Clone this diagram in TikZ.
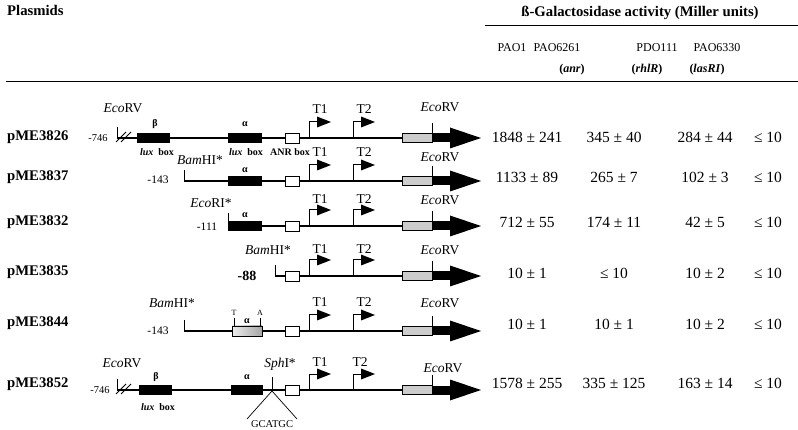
\documentclass[tikz,border=0pt]{standalone}
\usepackage{fontspec}
\setmainfont{Liberation Serif}
\begin{document}
\begin{tikzpicture}[
  x=1pt, y=-1pt,
  dna/.style={line width=1.3pt},
  tickline/.style={line width=0.9pt},
  lab/.style={inner sep=0pt, font=\fontsize{13.5}{15}\selectfont},
  num/.style={inner sep=0pt, font=\fontsize{15.5}{17}\selectfont},
  pname/.style={inner sep=0pt, anchor=west, font=\fontsize{14.7}{16}\selectfont\bfseries},
  poslab/.style={inner sep=0pt, font=\fontsize{10.5}{12}\selectfont},
  boxlab/.style={inner sep=0pt, font=\fontsize{10}{11}\selectfont\bfseries},
  greek/.style={inner sep=0pt, font=\fontsize{10}{11}\selectfont\bfseries},
  colhead/.style={inner sep=0pt, font=\fontsize{12}{13}\selectfont},
  headtxt/.style={inner sep=0pt, font=\fontsize{14.7}{16}\selectfont\bfseries},
  promoter/.pic={
    \draw[line width=1pt] (0,0) -- (0,-16) -- (9,-16);
    \fill (8,-10.5) -- (22,-16) -- (8,-21.5) -- cycle;
  },
  common/.pic={
    \draw[line width=0.9pt, fill=white] (285,-5) rectangle (299,5);
    \pic at (309,0) {promoter};
    \pic at (353,0) {promoter};
    \draw[line width=0.6pt, fill=gray!40] (402,-4.5) rectangle (432,4.5);
    \fill (431.5,-4.5) rectangle (451,4.5);
    \fill (450,-10.5) -- (481,0) -- (450,10.5) -- cycle;
    \draw[line width=0.9pt] (432,-15) -- (432,0);
  },
  slashes/.pic={
    \draw[line width=1pt] (-2,4) -- (8,-6);
    \draw[line width=1pt] (3,4) -- (13,-6);
  }
]
\useasboundingbox (0,0) rectangle (798,430);

% ---------- header ----------
\node[pname] (plas) at (7,10) {Plasmids};
\node[headtxt] (bgal) at (640,13) {ß-Galactosidase activity (Miller units)};
\draw[line width=0.9pt] (485,25) -- (798,25);
\node[colhead] (h1) at (512,48) {PAO1};
\node[colhead] (h2) at (557,48) {PAO6261};
\node[colhead] (h3) at (657,48) {PDO111};
\node[colhead] (h4) at (717,48) {PAO6330};
\node[colhead] (g2) at (572,70) {\bfseries(\textit{anr})};
\node[colhead] (g3) at (647,70) {\bfseries(\textit{rhlR})};
\node[colhead] (g4) at (707,70) {\bfseries(\textit{lasRI})};
\draw[line width=0.9pt] (6,81) -- (798,81);

% ---------- row 1: pME3826 ----------
\node[pname] (n1) at (7,137) {pME3826};
\draw[dna] (117,138) -- (402,138);
\draw[tickline] (117,127) -- (117,138);
\pic at (118,138) {slashes};
\fill (137,133) rectangle (170,143);
\fill (228,133) rectangle (262,143);
\pic at (0,138) {common};
\node[poslab] (p1) at (98,138) {-746};
\node[lab] (e1a) at (123,108) {\textit{Eco}RV};
\node[lab] (e1b) at (440,107) {\textit{Eco}RV};
\node[greek] (b1) at (155,124) {β};
\node[greek] (a1) at (245,124) {α};
\node[boxlab] (lb1) at (157,152) {\textit{lux}\enspace box};
\node[boxlab] (lb2) at (246,152) {\textit{lux}\enspace box};
\node[boxlab] (anr) at (290,152) {ANR box};
\node[lab] (t11) at (320,109) {T1};
\node[lab] (t21) at (364,109) {T2};

% ---------- row 2: pME3837 ----------
\node[pname] (n2) at (7,177) {pME3837};
\draw[dna] (184,181) -- (402,181);
\draw[tickline] (184,170) -- (184,181);
\fill (228,176) rectangle (262,186);
\pic at (0,181) {common};
\node[poslab, font=\fontsize{11.5}{13}\selectfont] (p2) at (158,180) {-143};
\node[lab] (s2) at (200,160) {\textit{Bam}HI*};
\node[greek] (a2) at (245,170) {α};
\node[lab] (t12) at (320,152) {T1};
\node[lab] (t22) at (364,152) {T2};
\node[lab] (e2) at (440,157) {\textit{Eco}RV};

% ---------- row 3: pME3832 ----------
\node[pname] (n3) at (7,222) {pME3832};
\draw[dna] (228,226) -- (402,226);
\draw[tickline] (228,213) -- (228,226);
\fill (228,221) rectangle (262,231);
\pic at (0,226) {common};
\node[poslab, font=\fontsize{11.5}{13}\selectfont] (p3) at (207,227) {-111};
\node[lab] (s3) at (211,203) {\textit{Eco}RI*};
\node[greek] (a3) at (245,215) {α};
\node[lab] (t13) at (320,199) {T1};
\node[lab] (t23) at (364,199) {T2};
\node[lab] (e3) at (440,200) {\textit{Eco}RV};

% ---------- row 4: pME3835 ----------
\node[pname] (n4) at (7,272) {pME3835};
\draw[dna] (275,276) -- (402,276);
\draw[tickline] (275,265) -- (275,276);
\pic at (0,276) {common};
\node[poslab, font=\fontsize{14}{16}\selectfont\bfseries] (p4) at (247,276) {-88};
\node[lab] (s4) at (268,250) {\textit{Bam}HI*};
\node[lab] (t14) at (320,249) {T1};
\node[lab] (t24) at (364,249) {T2};
\node[lab] (e4) at (440,250) {\textit{Eco}RV};

% ---------- row 5: pME3844 ----------
\node[pname] (n5) at (7,323) {pME3844};
\draw[dna] (184,331) -- (402,331);
\draw[tickline] (184,320) -- (184,331);
\draw[line width=0.8pt, left color=gray!15, right color=gray!70] (232,326) rectangle (262,336);
\draw[line width=0.6pt] (234,326) -- (234,318);
\draw[line width=0.6pt] (260,326) -- (260,318);
\pic at (0,331) {common};
\node[poslab, font=\fontsize{11.5}{13}\selectfont] (p5) at (158,331) {-143};
\node[lab] (s5) at (172,303) {\textit{Bam}HI*};
\node[inner sep=0pt, font=\fontsize{8}{9}\selectfont] (tt) at (234,313) {T};
\node[inner sep=0pt, font=\fontsize{8}{9}\selectfont] (aa) at (260,313) {A};
\node[greek] (a5) at (247,321) {α};
\node[lab] (t15) at (320,302) {T1};
\node[lab] (t25) at (364,302) {T2};
\node[lab] (e5) at (440,303) {\textit{Eco}RV};

% ---------- row 6: pME3852 ----------
\node[pname] (n6) at (7,384) {pME3852};
\draw[dna] (117,390) -- (402,390);
\draw[tickline] (117,379) -- (117,390);
\pic at (118,390) {slashes};
\fill (139,385) rectangle (172,395);
\fill (231,385) rectangle (263,395);
\pic at (0,390) {common};
\draw[tickline] (272,377) -- (272,391);
\coordinate (sv) at (272,391);
\coordinate (sl) at (247,419);
\coordinate (sr) at (297,419);
\draw[line width=0.7pt] (sl) -- (sv) -- (sr);
\node[poslab] (p6) at (100,390) {-746};
\node[lab] (e6a) at (122,363) {\textit{Eco}RV};
\node[greek] (b6) at (156,377) {β};
\node[greek] (a6) at (247,377) {α};
\node[boxlab] (lb6) at (158,407) {\textit{lux}\enspace box};
\node[lab] (s6) at (280,364) {\textit{Sph}I*};
\node[inner sep=0pt, font=\fontsize{10.5}{12}\selectfont] (gc) at (272,424) {GCATGC};
\node[lab] (t16) at (320,362) {T1};
\node[lab] (t26) at (360,362) {T2};
\node[lab] (e6b) at (443,368) {\textit{Eco}RV};

% ---------- values ----------
\foreach \y/\a/\b/\c/\d [count=\i] in {
  137/1848 ± 241/345 ± 40/284 ± 44/≤ 10,
  177/1133 ± 89/265 ± 7/102 ± 3/≤ 10,
  222/712 ± 55/174 ± 11/42 ± 5/≤ 10,
  273/10 ± 1/≤ 10/10 ± 2/≤ 10,
  324/10 ± 1/10 ± 1/10 ± 2/≤ 10,
  383/1578 ± 255/335 ± 125/163 ± 14/≤ 10} {
  \node[num] (v\i a) at (527,\y) {\a};
  \node[num] (v\i b) at (614,\y) {\b};
  \node[num] (v\i c) at (705,\y) {\c};
  \node[num] (v\i d) at (768,\y) {\d};
}
\end{tikzpicture}
\end{document}
